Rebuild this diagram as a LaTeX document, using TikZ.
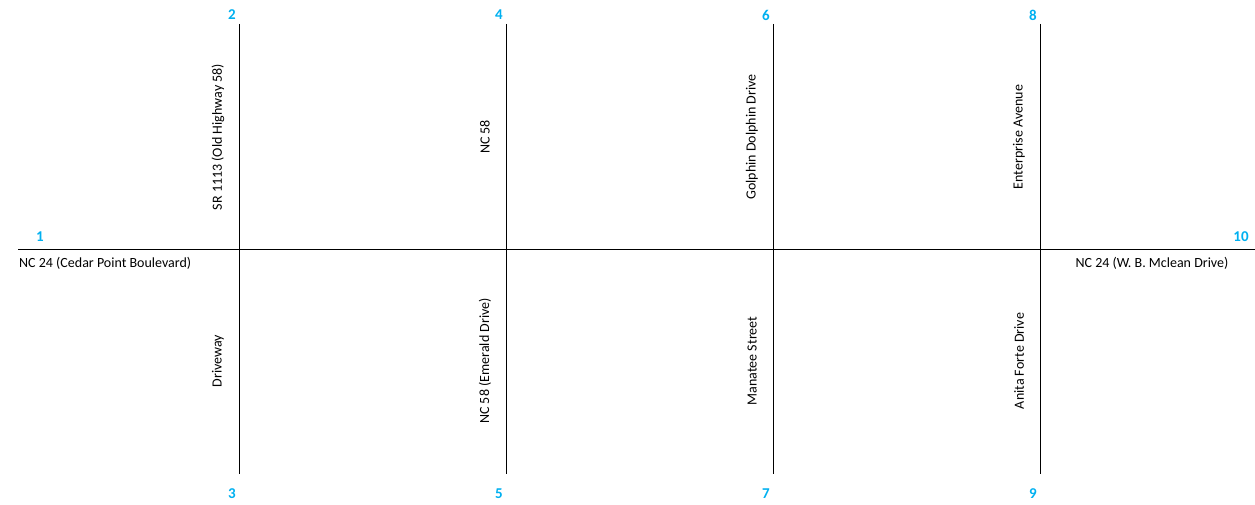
\documentclass[tikz,border=0pt]{standalone}
\usepackage{fontspec}
\setmainfont{Carlito}
\definecolor{numcyan}{RGB}{0,176,240}
\begin{document}
\begin{tikzpicture}[x=1pt,y=-1pt,
  road/.style={draw=black,line width=1pt},
  num/.style={text=numcyan,font=\bfseries\fontsize{15}{17}\selectfont,inner sep=0pt},
  lbl/.style={font=\fontsize{14}{16}\selectfont,inner sep=0pt},
  vlbl/.style={lbl,rotate=90}]
\useasboundingbox (0,0) rectangle (1255,505);
\coordinate (hl) at (18,249);
\coordinate (hr) at (1255,249);
\draw[road] (hl) -- (hr);
\foreach \n/\x in {a/239,b/506,c/773,d/1040}{
  \coordinate (\n t) at (\x,24);
  \coordinate (\n b) at (\x,474);
  \draw[road] (\n t) -- (\n b);
}
\node[num] (n1) at (40,237) {1};
\node[num] (n2) at (232,15) {2};
\node[num] (n3) at (232,494) {3};
\node[num] (n4) at (499,15) {4};
\node[num] (n5) at (499,494) {5};
\node[num] (n6) at (766,15) {6};
\node[num] (n7) at (766,494) {7};
\node[num] (n8) at (1033,15) {8};
\node[num] (n9) at (1033,494) {9};
\node[num] (n10) at (1241,237) {10};
\node[lbl,anchor=west] (lw) at (19,263) {NC 24 (Cedar Point Boulevard)};
\node[lbl] (le) at (1152,263) {NC 24 (W. B. Mclean Drive)};
\node[vlbl] (v2) at (218,137) {SR 1113 (Old Highway 58)};
\node[vlbl] (v3) at (218,361) {Driveway};
\node[vlbl] (v4) at (485,137) {NC 58};
\node[vlbl] (v5) at (485,361) {NC 58 (Emerald Drive)};
\node[vlbl] (v6) at (752,137) {Golphin Dolphin Drive};
\node[vlbl] (v7) at (752,361) {Manatee Street};
\node[vlbl] (v8) at (1019,137) {Enterprise Avenue};
\node[vlbl] (v9) at (1019,361) {Anita Forte Drive};
\end{tikzpicture}
\end{document}
